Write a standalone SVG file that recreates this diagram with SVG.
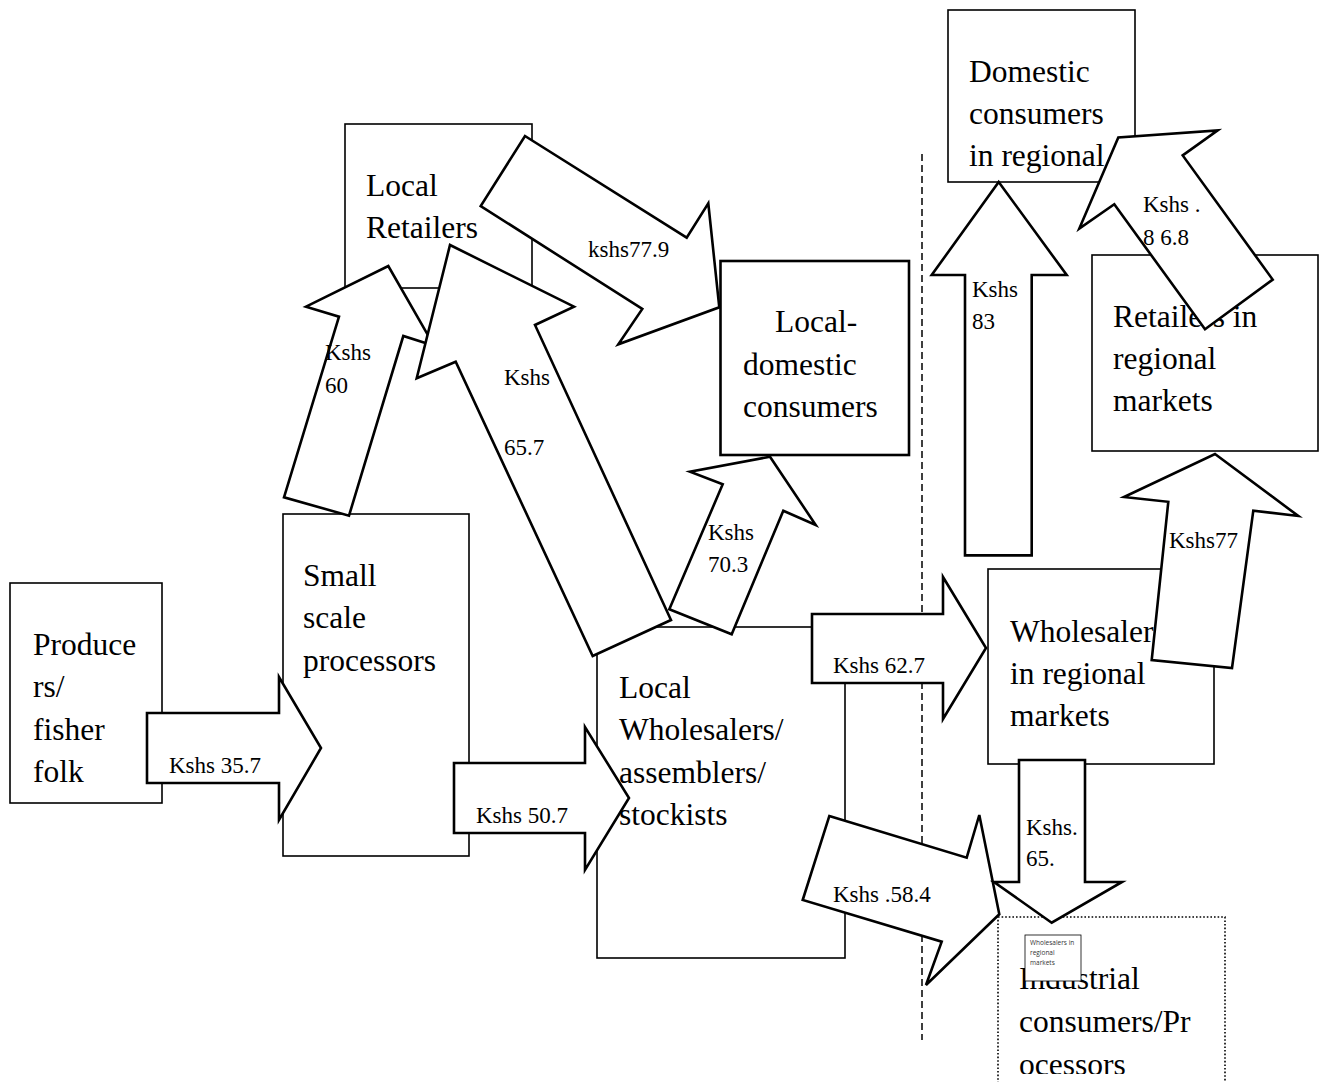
<svg xmlns="http://www.w3.org/2000/svg" width="1327" height="1082" viewBox="0 0 1327 1082">
<style>
.box{fill:#fff;stroke:#000;stroke-width:1.6}
.big{font-family:"Liberation Serif","Times New Roman",serif;font-size:31.5px;fill:#000}
.lbl{font-family:"Liberation Serif","Times New Roman",serif;font-size:23px;fill:#000}
.arr{fill:#fff;stroke:#000;stroke-width:2.6;stroke-linejoin:miter}
.tiny{font-family:"Open Sans","Liberation Sans",sans-serif;font-size:6.5px;fill:#333}
</style>
<defs>
<clipPath id="indclip"><rect x="998" y="917" width="227" height="157"/></clipPath>
</defs>
<rect width="1327" height="1082" fill="#fff"/>
<g id="nodes">
<g id="producers"><rect class="box" x="10" y="583" width="152" height="220"/>
<text class="big"><tspan x="33" y="655">Produce</tspan><tspan x="33" y="697">rs/</tspan><tspan x="33" y="740">fisher</tspan><tspan x="33" y="782">folk</tspan></text></g>
<g id="small-scale-processors"><rect class="box" x="283" y="514" width="186" height="342"/>
<text class="big"><tspan x="303" y="586">Small</tspan><tspan x="303" y="628">scale</tspan><tspan x="303" y="671">processors</tspan></text></g>
<g id="local-retailers"><rect class="box" x="345" y="124" width="187" height="164"/>
<text class="big"><tspan x="366" y="196">Local</tspan><tspan x="366" y="238">Retailers</tspan></text></g>
<g id="local-domestic-consumers"><rect class="box" style="stroke-width:2.6" x="720.5" y="261" width="188.5" height="194"/>
<text class="big"><tspan x="775" y="332">Local-</tspan><tspan x="743" y="375">domestic</tspan><tspan x="743" y="417">consumers</tspan></text></g>
<g id="local-wholesalers"><rect class="box" x="597" y="627" width="248" height="331"/>
<text class="big"><tspan x="619" y="698">Local</tspan><tspan x="619" y="740">Wholesalers/</tspan><tspan x="619" y="783">assemblers/</tspan><tspan x="619" y="825">stockists</tspan></text></g>
<g id="domestic-consumers-regional"><rect class="box" x="948" y="10" width="187" height="172"/>
<text class="big"><tspan x="969" y="82">Domestic</tspan><tspan x="969" y="124">consumers</tspan><tspan x="969" y="166">in regional</tspan></text></g>
<g id="retailers-regional"><rect class="box" x="1092" y="255" width="226" height="196"/>
<text class="big"><tspan x="1113" y="327">Retailers in</tspan><tspan x="1113" y="369">regional</tspan><tspan x="1113" y="411">markets</tspan></text></g>
<g id="wholesalers-regional"><rect class="box" x="988" y="569" width="226" height="195"/>
<text class="big"><tspan x="1010" y="642">Wholesalers</tspan><tspan x="1010" y="684">in regional</tspan><tspan x="1010" y="726">markets</tspan></text></g>
<g id="industrial-consumers"><rect x="998" y="917" width="227" height="200" fill="#fff" stroke="#000" stroke-width="1.6" stroke-dasharray="1.6,2"/>
<text class="big" clip-path="url(#indclip)"><tspan x="1019" y="989">Industrial</tspan><tspan x="1019" y="1032">consumers/Pr</tspan><tspan x="1019" y="1075">ocessors</tspan></text></g>
</g>
<line x1="922" y1="154" x2="922" y2="1040" stroke="#000" stroke-width="1.5" stroke-dasharray="7,4"/>
<g id="connectors">
<polygon class="arr" points="147,713 279,713 279,677 321,748 279,820 279,783 147,783"/>
<polygon class="arr" points="454,763 585,763 585,727 629,798 585,870 585,833 454,833"/>
<polygon class="arr" points="284,497.3 339,316.7 306,306.7 388.3,266 434,345.7 403.3,336 349,515.7"/>
<polygon class="arr" points="450,245 574,306.7 535,325 671,620 592.7,656 455.7,361.7 416.7,378.3"/>
<polygon class="arr" points="525,136 686.7,237.7 708.3,203.3 719.3,307.3 618.3,344.3 642.3,309 480.7,206"/>
<polygon class="arr" points="770,456.7 815.7,525 783.3,510.7 731.7,634.3 669.3,609.3 722.7,484.3 690,471.7"/>
<polygon class="arr" points="812,614 943,614 943,577 986,648 943,719 943,683 812,683"/>
<polygon class="arr" points="829.3,816 966.7,857.7 979.3,815 999.3,914.3 926,985 941.7,941.7 802.7,900"/>
<polygon class="arr" points="1019,760 1085,760 1085,882 1122,882 1051.7,922.7 994,882 1019,882"/>
<polygon class="arr" points="998.7,182 1066.7,275 1031.7,275 1031.7,555.4 965,555.4 965,275 931.7,275"/>
<polygon class="arr" points="1272.7,279.6 1205,329.3 1114.3,204.3 1079.3,228.6 1118.3,137.5 1217.7,130.4 1182.7,155.4"/>
<polygon class="arr" points="1215,454 1298.3,516 1253.3,510.7 1232,668 1151.7,660 1168.3,501.8 1124,497"/>
<text class="lbl" x="169" y="773">Kshs 35.7</text>
<text class="lbl" x="476" y="823">Kshs 50.7</text>
<text class="lbl"><tspan x="325" y="360">Kshs</tspan><tspan x="325" y="393">60</tspan></text>
<text class="lbl"><tspan x="504" y="385">Kshs</tspan><tspan x="504" y="455">65.7</tspan></text>
<text class="lbl" x="588" y="257">kshs77.9</text>
<text class="lbl"><tspan x="708" y="540">Kshs</tspan><tspan x="708" y="572">70.3</tspan></text>
<text class="lbl" x="833" y="673">Kshs 62.7</text>
<text class="lbl" x="833" y="902">Kshs .58.4</text>
<text class="lbl"><tspan x="1026" y="835">Kshs.</tspan><tspan x="1026" y="866">65.</tspan></text>
<text class="lbl"><tspan x="972" y="297">Kshs</tspan><tspan x="972" y="329">83</tspan></text>
<text class="lbl"><tspan x="1143" y="212">Kshs .</tspan><tspan x="1143" y="245">8 6.8</tspan></text>
<text class="lbl" x="1169" y="548">Kshs77</text>
</g>
<g id="wholesalers-note"><rect x="1025" y="935" width="56" height="46" fill="#fff" stroke="#000" stroke-width="0.8"/>
<text class="tiny"><tspan x="1030" y="945">Wholesalers in</tspan><tspan x="1030" y="955">regional</tspan><tspan x="1030" y="965">markets</tspan></text></g>
</svg>
